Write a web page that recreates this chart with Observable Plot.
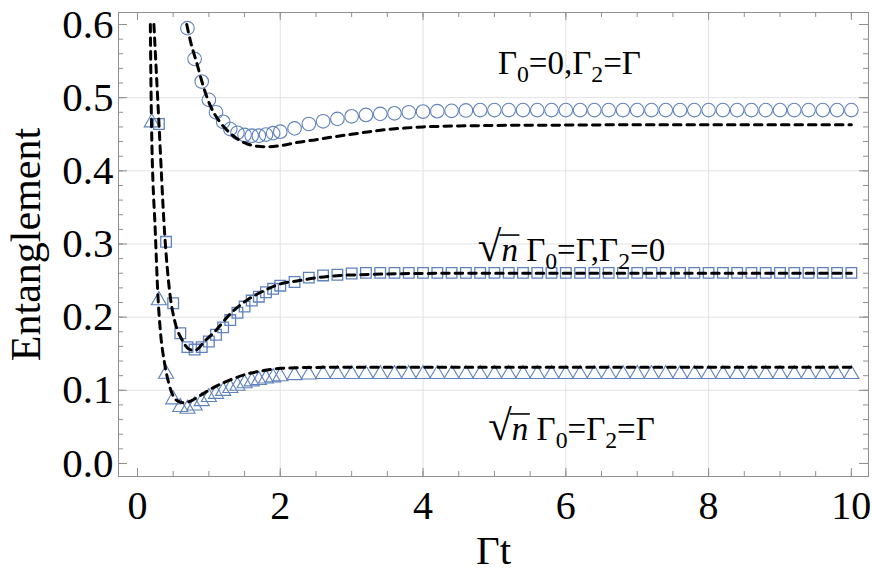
<!DOCTYPE html>
<html><head><meta charset="utf-8">
<script src="https://cdn.jsdelivr.net/npm/d3@7"></script>
<script src="https://cdn.jsdelivr.net/npm/@observablehq/plot@0.6"></script>
<style>
body{margin:0;background:#fff} svg{display:block}
svg text, svg tspan {font-family: "Liberation Serif", "Times New Roman", serif !important; font-variant: normal !important;}
</style>
</head><body><div id="chart"></div>
<script>
// ---- data: markers (numerical) ----
const circX = [0.7,0.8,0.9,1.0,1.1,1.2,1.3,1.4,1.5,1.6,1.7,1.8,1.9,2.0,2.2,2.4,2.6,2.8,3.0,3.2,3.4,3.6,3.8,4.0,4.2,4.4,4.6,4.8,5.0,5.2,5.4,5.6,5.8,6.0,6.2,6.4,6.6,6.8,7.0,7.2,7.4,7.6,7.8,8.0,8.2,8.4,8.6,8.8,9.0,9.2,9.4,9.6,9.8,10.0];
const circY = [0.595,0.553,0.522,0.497,0.480,0.467,0.457,0.452,0.449,0.448,0.448,0.4495,0.4515,0.4535,0.458,0.464,0.4677,0.471,0.4745,0.4764,0.4778,0.4786,0.480,0.481,0.4815,0.482,0.4825,0.483,0.483,0.483,0.483,0.483,0.483,0.483,0.483,0.483,0.483,0.483,0.483,0.483,0.483,0.483,0.483,0.483,0.483,0.483,0.483,0.483,0.483,0.483,0.483,0.483,0.483,0.483];

const sqX = [0.3,0.4,0.5,0.6,0.7,0.8,0.9,1.0,1.1,1.2,1.3,1.4,1.5,1.6,1.7,1.8,1.9,2.0,2.2,2.4,2.6,2.8,3.0,3.2,3.4,3.6,3.8,4.0,4.2,4.4,4.6,4.8,5.0,5.2,5.4,5.6,5.8,6.0,6.2,6.4,6.6,6.8,7.0,7.2,7.4,7.6,7.8,8.0,8.2,8.4,8.6,8.8,9.0,9.2,9.4,9.6,9.8,10.0];
const sqY = [0.464,0.303,0.219,0.178,0.159,0.1557,0.159,0.1667,0.176,0.186,0.196,0.206,0.2145,0.2227,0.228,0.234,0.2387,0.243,0.248,0.254,0.257,0.258,0.2597,0.2605,0.2605,0.2605,0.2605,0.2605,0.2605,0.2605,0.2605,0.2605,0.2605,0.2605,0.2605,0.2605,0.2605,0.2605,0.2605,0.2605,0.2605,0.2605,0.2605,0.2605,0.2605,0.2605,0.2605,0.2605,0.2605,0.2605,0.2605,0.2605,0.2605,0.2605,0.2605,0.2605,0.2605,0.2605];

const triX = [0.2,0.3,0.4,0.5,0.6,0.7,0.8,0.9,1.0,1.1,1.2,1.3,1.4,1.5,1.6,1.7,1.8,1.9,2.0,2.2,2.4,2.6,2.8,3.0,3.2,3.4,3.6,3.8,4.0,4.2,4.4,4.6,4.8,5.0,5.2,5.4,5.6,5.8,6.0,6.2,6.4,6.6,6.8,7.0,7.2,7.4,7.6,7.8,8.0,8.2,8.4,8.6,8.8,9.0,9.2,9.4,9.6,9.8,10.0];
const triY = [0.466,0.223,0.1225,0.0874,0.077,0.0747,0.079,0.085,0.0906,0.095,0.099,0.103,0.106,0.1095,0.112,0.114,0.116,0.1175,0.119,0.1205,0.1215,0.122,0.122,0.122,0.122,0.122,0.122,0.122,0.122,0.122,0.122,0.122,0.122,0.122,0.122,0.122,0.122,0.122,0.122,0.122,0.122,0.122,0.122,0.122,0.122,0.122,0.122,0.122,0.122,0.122,0.122,0.122,0.122,0.122,0.122,0.122,0.122,0.122,0.122];

// ---- data: analytic (dashed) curves ----
const thCircX = [0.69,0.74,0.84,0.92,1.02,1.14,1.26,1.40,1.54,1.68,1.82,2.0,2.25,2.5,2.75,3.0,3.25,3.5,3.75,4.0,4.5,5.0,6.0,7.0,8.0,10.0];
const thCircY = [0.600,0.578,0.544,0.516,0.489,0.4686,0.455,0.4436,0.4367,0.4335,0.433,0.4344,0.439,0.4425,0.4465,0.450,0.4535,0.4565,0.4585,0.460,0.4613,0.462,0.4625,0.463,0.463,0.463];

const thSqX = [0.23,0.30,0.38,0.46,0.52,0.63,0.72,0.80,0.95,1.07,1.30,1.54,1.77,2.0,2.27,2.55,2.84,3.12,3.5,4.0,5.0,10.0];
const thSqY = [0.600,0.466,0.315,0.2273,0.1954,0.168,0.1565,0.1544,0.168,0.179,0.2045,0.2236,0.236,0.2455,0.250,0.2545,0.257,0.258,0.259,0.2598,0.260,0.260];

const thTriX = [0.18,0.196,0.25,0.29,0.32,0.38,0.44,0.51,0.58,0.65,0.75,0.84,1.07,1.30,1.54,1.77,2.0,2.5,3.0,4.0,10.0];
const thTriY = [0.600,0.466,0.315,0.2227,0.1817,0.1366,0.109,0.0906,0.0845,0.0830,0.0855,0.0906,0.104,0.1143,0.1225,0.127,0.130,0.1313,0.1316,0.1316,0.1316];

// ---- axes / ticks ----
const xMajor = [0,2,4,6,8,10];
const xMinor = [0,0.5,1,1.5,2,2.5,3,3.5,4,4.5,5,5.5,6,6.5,7,7.5,8,8.5,9,9.5,10];
const yMajor = [0,0.1,0.2,0.3,0.4,0.5,0.6];
const yMinor = [0,0.02,0.04,0.06,0.08,0.1,0.12,0.14,0.16,0.18,0.2,0.22,0.24,0.26,0.28,0.3,0.32,0.34,0.36,0.38,0.4,0.42,0.44,0.46,0.48,0.5,0.52,0.54,0.56,0.58,0.6];
const xGrid = [2,4,6,8];
const yGrid = [0.1,0.2,0.3,0.4,0.5];

// ---- annotations ----
const labelX = [6.05, 6.08, 6.08];
const labelY = [0.547, 0.291, 0.0465];
const labelText = ["Γ_0=0,Γ_2=Γ", "√n Γ_0=Γ,Γ_2=0", "√n Γ_0=Γ_2=Γ"];

const xLabel = "Γt";
const yLabel = "Entanglement";

const zip = (xs, ys) => xs.map((x, i) => ({x, y: ys[i]}));
const circ = zip(circX, circY), sq = zip(sqX, sqY), tri = zip(triX, triY);
const thCirc = zip(thCircX, thCircY), thSq = zip(thSqX, thSqY), thTri = zip(thTriX, thTriY);
const labels = labelText.map((t, i) => ({x: labelX[i], y: labelY[i], t}));

const W = 872, H = 586, mL = 118, mR = 4, mT = 12, mB = 110;
const fw = W - mL - mR, fh = H - mT - mB;
const blue = "#5f82bd", frameC = "#8f8f8f", gridC = "#e2e2e2";
const font = "Liberation Serif";
const annSize = 33;
const dash = {stroke: "black", strokeWidth: 3, strokeDasharray: "7.5,6", curve: "monotone-x", x: "x", y: "y"};

const chart = Plot.plot({
  width: W, height: H,
  marginLeft: mL, marginRight: mR, marginTop: mT, marginBottom: mB,
  style: {fontFamily: font, background: "white", color: "black", overflow: "visible"},
  x: {domain: [-0.266, 10.24]},
  y: {domain: [-0.0178, 0.6164]},
  marks: [
    Plot.gridX(xGrid, {stroke: gridC, strokeOpacity: 1}),
    Plot.gridY(yGrid, {stroke: gridC, strokeOpacity: 1}),
    Plot.tickX(xMinor, {x: d => d, insetTop: fh - 5, stroke: frameC}),
    Plot.tickX(xMajor, {x: d => d, insetTop: fh - 8, stroke: frameC}),
    Plot.tickX(xMinor, {x: d => d, insetBottom: fh - 5, stroke: frameC}),
    Plot.tickX(xMajor, {x: d => d, insetBottom: fh - 8, stroke: frameC}),
    Plot.tickY(yMinor, {y: d => d, insetRight: fw - 5, stroke: frameC}),
    Plot.tickY(yMajor, {y: d => d, insetRight: fw - 9, stroke: frameC}),
    Plot.tickY(yMinor, {y: d => d, insetLeft: fw - 5, stroke: frameC}),
    Plot.tickY(yMajor, {y: d => d, insetLeft: fw - 9, stroke: frameC}),
    Plot.frame({stroke: frameC}),
    Plot.axisX(xMajor, {tickSize: 0, tickPadding: 14, fontSize: 40, fontFamily: font, label: null}),
    Plot.axisY(yMajor, {tickSize: 0, tickPadding: 5, fontSize: 41, fontFamily: font, label: null, tickFormat: d3.format(".1f")}),
    Plot.text([xLabel], {frameAnchor: "bottom", dy: 87, fontSize: 41, fontFamily: font}),
    Plot.text([yLabel], {frameAnchor: "left", textAnchor: "middle", rotate: -90, dx: -92, fontSize: 42, fontFamily: font}),
    Plot.dot(circ, {x: "x", y: "y", r: 6.8, stroke: blue, strokeWidth: 1.1, fill: "none"}),
    Plot.dot(sq, {x: "x", y: "y", r: 6, symbol: "square", stroke: blue, strokeWidth: 1.3, fill: "none"}),
    Plot.dot(tri, {x: "x", y: "y", r: 5.6, symbol: "triangle", stroke: blue, strokeWidth: 1.1, fill: "none"}),
    Plot.line(thCirc, dash),
    Plot.line(thSq, dash),
    Plot.line(thTri, dash),
    Plot.text(labels, {x: "x", y: "y", text: "t", fontSize: annSize, fontFamily: font})
  ]
});

// rich text: subscripts and square root
const NS = "http://www.w3.org/2000/svg";
const roots = [];
function rich(el, s) {
  el.textContent = "";
  const add = (txt, attrs = {}) => {
    const t = document.createElementNS(NS, "tspan");
    for (const k in attrs) t.setAttribute(k, attrs[k]);
    t.textContent = txt;
    el.appendChild(t);
    return t;
  };
  let i = 0, shifted = false;
  while (i < s.length) {
    const c = s[i];
    if (c === "_") {
      add(s[i + 1], {dy: 8, "font-size": "0.72em"});
      shifted = true; i += 2;
    } else if (c === "√") {
      add("√", {"font-size": "1.3em"});
      add("n", {"font-style": "italic"});
      roots.push(el);
      i += 2;
    } else {
      if (shifted) { add(c, {dy: -8}); shifted = false; } else add(c);
      i++;
    }
  }
}
chart.querySelectorAll("text").forEach(el => {
  const s = el.textContent;
  if (labelText.includes(s)) rich(el, s);
});

document.getElementById("chart").appendChild(chart);

// overbar of the square root, placed from the glyph positions
roots.forEach(el => {
  try {
    const r0 = el.getStartPositionOfChar(0);
    const r1 = el.getEndPositionOfChar(0);
    const n1 = el.getEndPositionOfChar(1);
    const y = r0.y - 0.79 * annSize;
    const ln = document.createElementNS(NS, "path");
    ln.setAttribute("d", `M${r1.x - 2},${y}H${n1.x + 1.5}`);
    ln.setAttribute("stroke", "black");
    ln.setAttribute("stroke-width", 1.6);
    ln.setAttribute("fill", "none");
    const tr = el.getAttribute("transform");
    if (tr) ln.setAttribute("transform", tr);
    el.parentNode.insertBefore(ln, el.nextSibling);
  } catch (e) { console.error(e); }
});
</script>
</body></html>
